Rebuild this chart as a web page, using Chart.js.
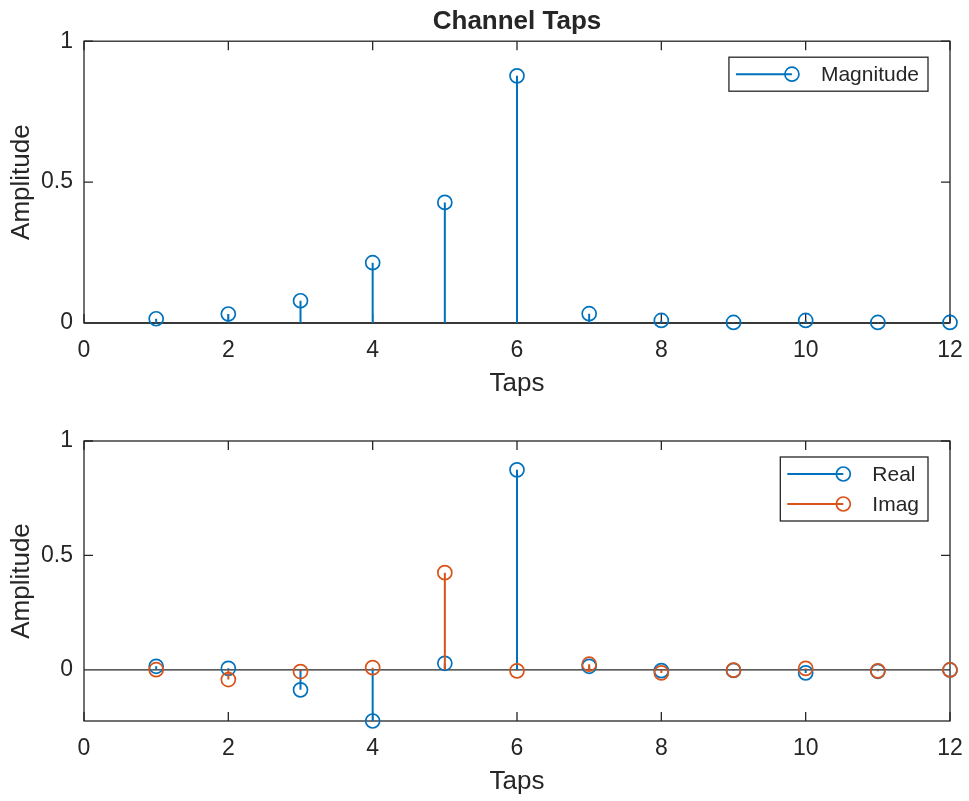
<!DOCTYPE html>
<html>
<head>
<meta charset="UTF-8">
<title>Channel Taps</title>
<script src="https://cdn.jsdelivr.net/npm/chart.js"></script>
<style>
  body { margin: 0; background: #fff; }
  .plot { position: absolute; left: 0; width: 969px; height: 400px; }
</style>
</head>
<body>
<div class="plot" style="top:0"><canvas id="magChart" width="969" height="400"></canvas></div>
<div class="plot" style="top:398px"><canvas id="iqChart" width="969" height="400"></canvas></div>
<script>
// values
const taps = [1, 2, 3, 4, 5, 6, 7, 8, 9, 10, 11, 12];
const magnitude = [0.015, 0.032, 0.079, 0.214, 0.428, 0.877, 0.033, 0.009, 0.002, 0.009, 0.002, 0.002];
const realPart = [0.016, 0.007, -0.087, -0.223, 0.029, 0.874, 0.016, -0.003, -0.002, -0.013, -0.006, 0.0];
const imagPart = [0.001, -0.042, -0.007, 0.010, 0.425, -0.004, 0.025, -0.013, -0.001, 0.007, -0.004, 0.0];
const xTicks = [0, 2, 4, 6, 8, 10, 12];
const yTicks = [0, 0.5, 1];

const blue = '#0072BD';
const orange = '#D95319';
const ink = '#262626';
const family = '"Liberation Sans", Arial, Helvetica, sans-serif';

function stemLine(values) {
    const pts = [];
    taps.forEach((t, i) => {
        pts.push({x: t, y: 0}, {x: t, y: values[i]}, {x: t, y: null});
    });
    return pts;
}

function stemSets(label, values, color, order) {
    return [
        {
            label: label, type: 'line', data: stemLine(values),
            borderColor: color, borderWidth: 2, pointRadius: 0, pointHoverRadius: 0,
            spanGaps: false, clip: false, order: order + 1
        },
        {
            label: label, type: 'scatter', data: taps.map((t, i) => ({x: t, y: values[i]})),
            showLine: false, pointStyle: 'circle', pointRadius: 7, pointHoverRadius: 7,
            pointBorderColor: color, pointBackgroundColor: 'rgba(0,0,0,0)', pointBorderWidth: 1.7,
            pointHoverBorderWidth: 1.7, clip: false, order: order
        }
    ];
}

// box, inward ticks and the stem baseline, under the data like MATLAB
const axesFrame = {
    id: 'axesFrame',
    beforeDatasetsDraw(chart) {
        const {ctx, chartArea: a, scales: {x, y}} = chart;
        const len = 9;
        ctx.save();
        ctx.strokeStyle = ink;
        ctx.lineWidth = 1.3;
        ctx.strokeRect(a.left, a.top, a.right - a.left, a.bottom - a.top);
        ctx.beginPath();
        x.ticks.forEach(t => {
            const px = x.getPixelForValue(t.value);
            ctx.moveTo(px, a.bottom); ctx.lineTo(px, a.bottom - len);
            ctx.moveTo(px, a.top); ctx.lineTo(px, a.top + len);
        });
        y.ticks.forEach(t => {
            const py = y.getPixelForValue(t.value);
            ctx.moveTo(a.left, py); ctx.lineTo(a.left + len, py);
            ctx.moveTo(a.right, py); ctx.lineTo(a.right - len, py);
        });
        const y0 = y.getPixelForValue(0);
        ctx.moveTo(a.left, y0); ctx.lineTo(a.right, y0);
        ctx.stroke();
        ctx.restore();
    }
};

// MATLAB-like legend: line with a circle at its end, boxed
const stemLegend = {
    id: 'stemLegend',
    afterDraw(chart, args, opts) {
        const {ctx, chartArea: a} = chart;
        const items = opts.items || [];
        ctx.save();
        ctx.font = '21px ' + family;
        const textW = Math.max(...items.map(it => ctx.measureText(it.text).width));
        const right = a.right - 22;
        const left = right - 9 - textW - 92;
        const top = a.top + 16;
        const h = 34 + (items.length - 1) * 30;
        ctx.fillStyle = '#fff';
        ctx.fillRect(left, top, right - left, h);
        ctx.strokeStyle = ink;
        ctx.lineWidth = 1.3;
        ctx.strokeRect(left, top, right - left, h);
        items.forEach((it, i) => {
            const cy = top + 17 + i * 30;
            ctx.strokeStyle = it.color;
            ctx.lineWidth = 2;
            ctx.beginPath();
            ctx.moveTo(left + 7, cy); ctx.lineTo(left + 63, cy);
            ctx.stroke();
            ctx.lineWidth = 1.7;
            ctx.beginPath();
            ctx.arc(left + 63, cy, 7, 0, Math.PI * 2);
            ctx.stroke();
            ctx.fillStyle = ink;
            ctx.textBaseline = 'middle';
            ctx.textAlign = 'left';
            ctx.fillText(it.text, left + 92, cy + 1);
        });
        ctx.restore();
    }
};

function makeChart(id, datasets, yMin, legendItems, title, padTop) {
    return new Chart(document.getElementById(id), {
        data: {datasets: datasets},
        plugins: [axesFrame, stemLegend],
        options: {
            responsive: false,
            animation: false,
            events: [],
            layout: {padding: {top: padTop, right: 19, bottom: 0, left: 0}},
            plugins: {
                legend: {display: false},
                tooltip: {enabled: false},
                title: {
                    display: !!title, text: title, fullSize: false, color: ink,
                    font: {family: family, size: 26, weight: 'bold'},
                    padding: {top: 6, bottom: 4}
                },
                stemLegend: {items: legendItems}
            },
            scales: {
                x: {
                    type: 'linear', min: 0, max: 12,
                    grid: {display: false, drawTicks: false}, border: {display: false},
                    afterBuildTicks: s => { s.ticks = xTicks.map(v => ({value: v})); },
                    afterFit: s => { s.height = 77; s.paddingLeft = 0; s.paddingRight = 0; },
                    ticks: {color: ink, font: {family: family, size: 23}, padding: 14,
                        maxRotation: 0, autoSkip: false, callback: v => String(v)},
                    title: {display: true, text: 'Taps', color: ink,
                        font: {family: family, size: 26}, padding: {top: 0, bottom: 1}}
                },
                y: {
                    type: 'linear', min: yMin, max: 1,
                    grid: {display: false, drawTicks: false}, border: {display: false},
                    afterBuildTicks: s => { s.ticks = yTicks.map(v => ({value: v})); },
                    afterFit: s => { s.width = 84; },
                    ticks: {color: ink, font: {family: family, size: 23}, padding: 11,
                        callback: v => String(v)},
                    title: {display: true, text: 'Amplitude', color: ink,
                        font: {family: family, size: 26}, padding: {top: 6, bottom: 0}}
                }
            }
        }
    });
}

makeChart('magChart', stemSets('Magnitude', magnitude, blue, 0), 0,
    [{text: 'Magnitude', color: blue}], 'Channel Taps', 0);

makeChart('iqChart', stemSets('Imag', imagPart, orange, 0).concat(stemSets('Real', realPart, blue, 2)), -0.223,
    [{text: 'Real', color: blue}, {text: 'Imag', color: orange}], '', 43);
</script>
</body>
</html>
